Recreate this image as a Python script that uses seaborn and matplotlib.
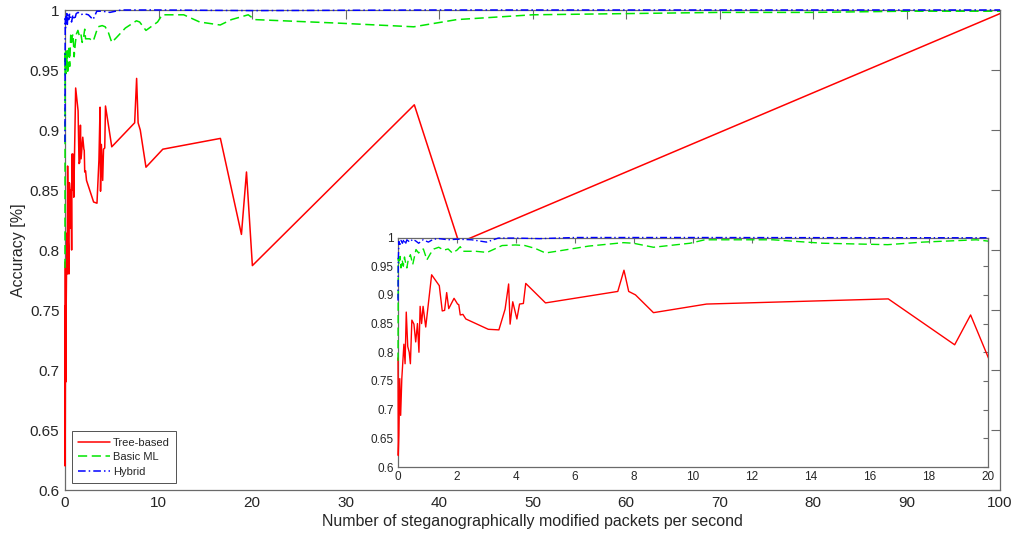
import matplotlib
matplotlib.use("Agg")
import matplotlib.pyplot as plt
import numpy as np
import pandas as pd
import seaborn as sns
from matplotlib.transforms import Bbox, TransformedBbox

# Accuracy of three detector families vs. embedding rate
tree_x = [0, 0.01, 0.03, 0.06, 0.09, 0.13, 0.2, 0.24, 0.28, 0.33, 0.38, 0.42, 0.47,
          0.54, 0.6, 0.66, 0.71, 0.75, 0.8, 0.85, 0.9, 0.94, 1.14, 1.4, 1.5, 1.58,
          1.65, 1.72, 1.9, 2.02, 2.06, 2.11, 2.2, 2.3, 3.06, 3.42, 3.63, 3.75, 3.8,
          3.89, 4.03, 4.12, 4.25, 4.33, 5.0, 7.45, 7.66, 7.82, 8.05, 8.66, 10.46,
          16.62, 18.87, 19.41, 20.04, 37.36, 42.14, 100]
tree_y = [0.79, 0.62, 0.656, 0.754, 0.69, 0.755, 0.814, 0.78, 0.87, 0.81, 0.80, 0.78,
          0.856, 0.849, 0.818, 0.85, 0.80, 0.88, 0.85, 0.88, 0.86, 0.844, 0.935, 0.916,
          0.872, 0.873, 0.904, 0.876, 0.894, 0.884, 0.883, 0.865, 0.866, 0.858, 0.84,
          0.839, 0.875, 0.919, 0.849, 0.888, 0.858, 0.884, 0.885, 0.92, 0.886, 0.906,
          0.943, 0.906, 0.90, 0.869, 0.884, 0.893, 0.813, 0.865, 0.787, 0.921, 0.806,
          0.997]

basic_x = [0, 0.01, 0.04, 0.07, 0.1, 0.14, 0.18, 0.22, 0.26, 0.3, 0.35, 0.42, 0.5,
           0.61, 0.7, 0.78, 0.86, 0.98, 1.1, 1.22, 1.38, 1.55, 1.7, 1.84, 2.0, 2.11,
           2.2, 2.63, 3.02, 3.53, 3.98, 4.3, 4.65, 5.0, 5.5, 6.46, 7.64, 7.98, 8.66,
           9.9, 10.4, 12.7, 14.4, 16.6, 17.8, 19.6, 20.3, 29.4, 37.3, 41.9, 50, 60,
           70, 80, 90, 100]
basic_y = [0.785, 0.964, 0.953, 0.967, 0.947, 0.961, 0.95, 0.966, 0.955, 0.947, 0.962,
           0.97, 0.953, 0.979, 0.973, 0.978, 0.98, 0.961, 0.972, 0.98, 0.983, 0.978,
           0.98, 0.973, 0.978, 0.984, 0.976, 0.976, 0.974, 0.986, 0.987, 0.986, 0.981,
           0.973, 0.977, 0.985, 0.991, 0.99, 0.983, 0.99, 0.996, 0.996, 0.99, 0.9875,
           0.992, 0.996, 0.992, 0.989, 0.986, 0.992, 0.996, 0.997, 0.998, 0.998,
           0.999, 0.999]

hybrid_x = [0, 0.01, 0.03, 0.06, 0.1, 0.15, 0.2, 0.25, 0.3, 0.4, 0.5, 0.6, 0.7, 0.85,
            1.03, 1.2, 1.4, 1.7, 2.0, 2.5, 3.0, 3.4, 4.0, 4.8, 6, 10, 20, 40, 60, 80,
            100]
hybrid_y = [0.89, 0.96, 0.993, 0.985, 0.995, 0.99, 0.997, 0.988, 0.996, 0.992, 0.997,
            0.994, 0.99, 0.996, 0.992, 0.997, 0.998, 0.996, 0.997, 0.996, 0.992, 0.999,
            0.999, 0.998, 1.0, 1.0, 0.9995, 1.0, 1.0, 1.0, 1.0]

series_names = ["Tree-based", "Basic ML", "Hybrid"]
y_ticks = [0.6, 0.65, 0.7, 0.75, 0.8, 0.85, 0.9, 0.95, 1.0]
y_tick_labels = ["0.6", "0.65", "0.7", "0.75", "0.8", "0.85", "0.9", "0.95", "1"]
main_x_ticks = list(range(0, 101, 10))
inset_x_ticks = list(range(0, 21, 2))
x_label = "Number of steganographically modified packets per second"
y_label = "Accuracy [%]"

sns.set_style("white")
plt.rcParams["font.family"] = ["Liberation Sans", "DejaVu Sans"]

styles = [
    dict(color="#ff0000", linestyle="-"),
    dict(color="#00e600", linestyle=(0, (6, 3))),
    dict(color="#0000ff", linestyle=(0, (5, 2, 1, 2))),
]
data = [(tree_x, tree_y), (basic_x, basic_y), (hybrid_x, hybrid_y)]

AX_COLOR = "#6a6a6a"
TXT_COLOR = "#262626"

fig = plt.figure(figsize=(10.15, 5.37), dpi=100)
ax = fig.add_axes([65 / 1015, 47 / 537, 935 / 1015, 480 / 537])
inset = fig.add_axes([398 / 1015, 70 / 537, 590 / 1015, 229.5 / 537])


def draw(axis, lw, legend):
    # clip a hair outside the axes box so curves sitting on the limits stay visible
    clip_box = TransformedBbox(Bbox([[-0.003, -0.004], [1.0, 1.006]]), axis.transAxes)
    for name, (xs, ys), st in zip(series_names, data, styles):
        df = pd.DataFrame({"x": xs, "y": ys})
        n_before = len(axis.lines)
        sns.lineplot(data=df, x="x", y="y", ax=axis, estimator=None, sort=False,
                     color=st["color"], linestyle=st["linestyle"], linewidth=lw,
                     label=name if legend else None, legend=False, zorder=3)
        for ln in axis.lines[n_before:]:
            ln.set_clip_box(clip_box)


def style_axes(axis, xticks, fs, tlen):
    axis.set_yticks(y_ticks)
    axis.set_yticklabels(y_tick_labels)
    axis.set_xticks(xticks)
    axis.set_xticklabels([str(t) for t in xticks])
    axis.set_ylim(0.6, 1.0)
    axis.set_xlim(xticks[0], xticks[-1])
    axis.tick_params(direction="in", top=True, right=True, length=tlen, width=0.8,
                     color=AX_COLOR, labelsize=fs, labelcolor=TXT_COLOR, pad=4)
    for sp in axis.spines.values():
        sp.set_color(AX_COLOR)
        sp.set_linewidth(0.9)
        sp.set_visible(True)
    axis.set_facecolor("white")
    axis.set_xlabel("")
    axis.set_ylabel("")


draw(ax, 1.1, True)
style_axes(ax, main_x_ticks, 11, 6.5)
ax.set_xlabel(x_label, fontsize=11.5, color=TXT_COLOR, labelpad=3)
ax.set_ylabel(y_label, fontsize=11.5, color=TXT_COLOR, labelpad=3)

handles, labels = ax.get_legend_handles_labels()
leg = ax.legend(handles, labels, loc="lower left", bbox_to_anchor=(0.0075, 0.0146),
                borderaxespad=0, fontsize=8, frameon=True, fancybox=False,
                handlelength=2.9, handletextpad=0.25, borderpad=0.55,
                labelspacing=0.42)
leg.get_frame().set_edgecolor("#262626")
leg.get_frame().set_linewidth(0.7)
leg.set_zorder(5)

draw(inset, 1.0, False)
style_axes(inset, inset_x_ticks, 8.5, 3.5)
inset.tick_params(pad=3)

fig.savefig("out.png", dpi=100)
